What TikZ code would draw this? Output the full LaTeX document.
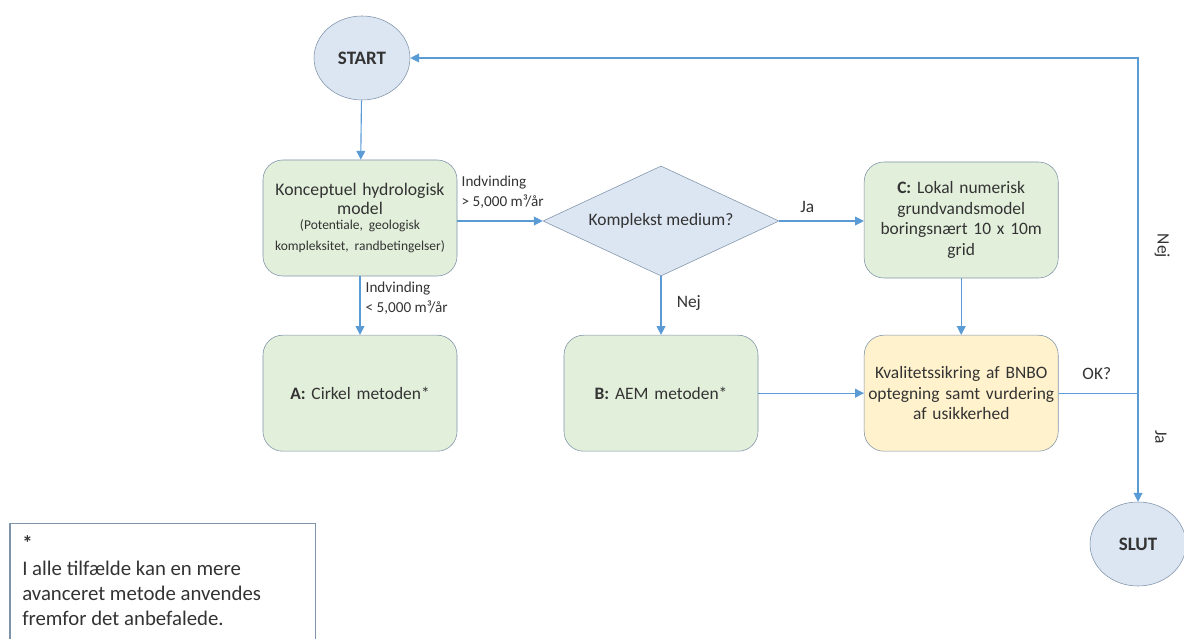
\documentclass[tikz,border=0pt]{standalone}
\usepackage{fontspec}
\setmainfont{Carlito}
\usetikzlibrary{shapes.geometric,arrows.meta}

\definecolor{flowline}{HTML}{5B9BD5}
\definecolor{boxedge}{HTML}{7F93AA}
\definecolor{stepfill}{HTML}{E2EFDA}
\definecolor{checkfill}{HTML}{FFF2CC}
\definecolor{endfill}{HTML}{DCE6F2}
\definecolor{txt}{HTML}{333333}

\begin{document}
\begin{tikzpicture}[
        every node/.style={font=\fontsize{12.4}{14.7}\selectfont, text=txt},
        terminal/.style={
            ellipse,
            draw=boxedge,
            fill=endfill,
            minimum width=2.4cm,
            minimum height=2.1cm,
            font=\fontsize{13.5}{15}\selectfont\bfseries
        },
        stepbox/.style={
            rectangle,
            rounded corners=14pt,
            draw=boxedge,
            fill=stepfill,
            minimum width=4.85cm,
            minimum height=2.9cm,
            align=center,
            text width=4.8cm,
            inner sep=0pt
        },
        checkbox/.style={
            stepbox,
            fill=checkfill
        },
        choice/.style={
            diamond,
            draw=boxedge,
            fill=endfill,
            minimum width=5.9cm,
            minimum height=2.75cm,
            inner sep=0pt
        },
        flow/.style={draw=flowline, line width=0.8pt},
        arrow/.style={flow, -{Triangle[length=2.2mm,width=2.2mm]}},
        edge label/.style={font=\fontsize{10.8}{14.2}\selectfont, align=left, inner sep=1pt}
    ]
    \useasboundingbox (0,0) rectangle (29.6,-15.975);

    % Nodes
    \node[terminal] (start) at (9.05,-1.45) {START};
    \node[stepbox] (konc) at (9.0,-5.45) {\fontsize{12.6}{13.2}\selectfont Konceptuel hydrologisk\\model\\[1pt]
        {\fontsize{9.6}{10}\selectfont (Potentiale, geologisk\\kompleksitet, randbetingelser)}};
    \node[choice] (dia) at (16.525,-5.525) {\makebox[0pt]{Komplekst medium?}};
    \node[stepbox] (c) at (24.03,-5.5) {\textbf{C:} Lokal numerisk\\grundvandsmodel\\boringsnært 10 x 10m\\grid};
    \node[stepbox] (a) at (9.0,-9.83) {\textbf{A:} Cirkel metoden*};
    \node[stepbox] (b) at (16.525,-9.83) {\textbf{B:} AEM metoden*};
    \node[checkbox] (q) at (24.03,-9.83) {Kvalitetssikring af BNBO\\optegning samt vurdering\\af usikkerhed};
    \node[terminal] (slut) at (28.45,-13.6) {SLUT};

    \coordinate (jct) at (slut.north |- q.east);
    \coordinate (top) at (slut.north |- start.east);

    % Connectors
    \draw[arrow] (start) -- (konc);
    \draw[arrow] (konc.east |- dia.west) -- (dia.west);
    \node[edge label, anchor=south west] (lhi) at (11.5,-5.25) {Indvinding\\> 5,000 m³/år};
    \draw[arrow] (dia.east) -- (c.west |- dia.east);
    \node (ja1) at (20.18,-5.17) {Ja};
    \draw[arrow] (dia.south) -- (b.north);
    \node (nej1) at (17.22,-7.58) {Nej};
    \draw[arrow] (konc) -- (a);
    \node[edge label, anchor=north west] (llo) at (9.1,-7.0) {Indvinding\\< 5,000 m³/år};
    \draw[arrow] (c) -- (q);
    \draw[arrow] (b) -- (q);
    \draw[flow] (q.east) -- (jct);
    \node (ok) at (27.42,-9.33) {OK?};
    \draw[arrow] (jct) -- (top) -- (start.east);
    \node[rotate=-90] (nej2) at (29.05,-6.15) {Nej};
    \draw[arrow] (jct) -- (slut.north);
    \node[rotate=-90] (ja2) at (29.02,-10.93) {Ja};

    % Note
    \draw[boxedge, line width=0.8pt] (0.25,-16.1) -- (0.25,-13.08) -- (7.88,-13.08) -- (7.88,-16.1);
    \node[anchor=north west, align=left, font=\fontsize{14.8}{17.8}\selectfont, inner sep=0pt] (note)
        at (0.55,-13.38) {\textbf{*}\\I alle tilfælde kan en mere\\avanceret metode anvendes\\fremfor det anbefalede.};
\end{tikzpicture}
\end{document}
